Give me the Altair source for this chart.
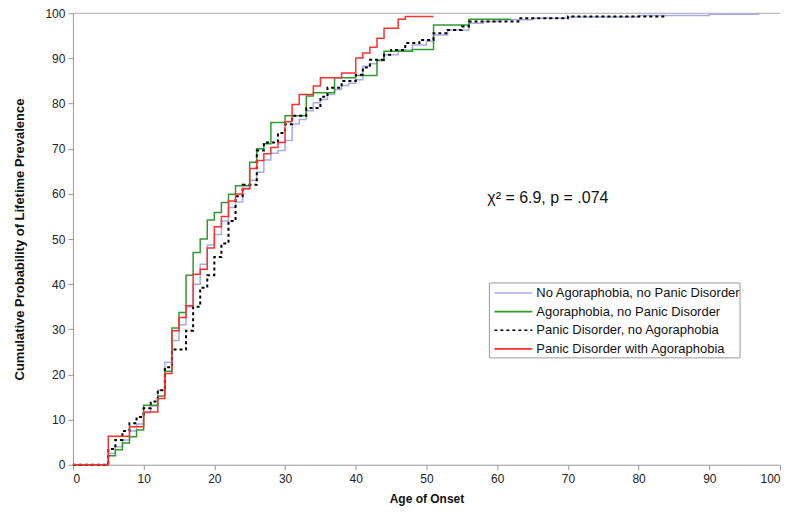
import altair as alt
import pandas as pd

series_names = [
    "No Agoraphobia, no Panic Disorder",
    "Agoraphobia, no Panic Disorder",
    "Panic Disorder, no Agoraphobia",
    "Panic Disorder with Agoraphobia",
]
series_colors = ["#a9aae6", "#2f9a2f", "#000000", "#ff2f2f"]
series_dashes = [[1, 0], [1, 0], [3, 3], [1, 0]]
series_widths = [1.5, 1.5, 2.0, 1.5]

blue_age = [0, 5, 6, 7, 8, 9, 10, 11, 12, 13, 14, 15, 16, 17, 18, 19, 20, 21, 22, 23, 24,
            25, 26, 27, 28, 29, 30, 31, 32, 33, 34, 35, 36, 37, 38, 39, 40, 41, 42, 43, 44,
            46, 48, 50, 51, 53, 56, 58, 60, 65, 70, 80, 90, 97]
blue_pct = [0, 2.5, 4, 5.5, 7.5, 9, 11.5, 13, 16.5, 22.7, 27.5, 31, 35, 40, 44.4, 48.7, 51, 54,
            57, 58.2, 61, 63, 64.8, 67.5, 69, 69.6, 71.8, 75.5, 76.5, 78.4, 80.2, 80.9, 82,
            83.1, 84, 84.5, 85.3, 88.3, 88.8, 89.5, 90.8, 91.9, 93, 93.8, 95.2, 96.3, 97.8,
            98.2, 98.6, 98.9, 99.2, 99.5, 99.8, 100]

green_age = [0, 5, 6, 7, 8, 9, 10, 12, 13, 14, 15, 16, 17, 18, 19, 20, 21, 22, 23, 25, 26, 27,
             28, 30, 33, 34, 37, 40, 43, 44, 48, 51, 56, 62]
green_pct = [0, 2, 3.3, 4.8, 6.2, 7.7, 13.2, 15.2, 20.7, 30.3, 33.7, 42, 47, 50, 54.2, 55.9,
             58.1, 59.9, 61.8, 67, 70, 71.1, 75.8, 77.3, 81.7, 82.4, 85.7, 86.2, 89.6, 91.6,
             92, 97.4, 98.7, 98.7]

dot_age = [0, 5, 6, 7, 8, 9, 10, 11, 12, 13, 14, 16, 17, 18, 19, 20, 21, 22, 23, 24, 26, 27,
           29, 30, 31, 33, 35, 36, 38, 40, 41, 42, 44, 45, 47, 49, 51, 53, 55, 56, 63, 70, 84]
dot_pct = [0, 3.5, 5.5, 7.5, 9.2, 10.6, 12.5, 14, 16.5, 21.6, 25.5, 29.7, 35, 39.2, 42, 46,
           49, 54, 59.5, 62, 69.6, 71.4, 73.5, 75.4, 77.3, 79, 81.5, 83.5, 85, 86.4, 88,
           89.7, 90.8, 91.9, 93.4, 94.1, 95.6, 96.3, 97.1, 98.2, 98.9, 99.3, 99.3]

red_age = [0, 5, 8, 10, 12, 13, 14, 15, 16, 17, 18, 19, 20, 21, 22, 23, 24, 25, 26, 27, 28,
           29, 30, 31, 32, 34, 35, 38, 40, 41, 42, 43, 44, 46, 47, 51]
red_pct = [0, 6.3, 8.4, 11.7, 14.7, 20.2, 29.7, 32.6, 35.2, 42.2, 43.3, 48, 52.7, 55, 58.4,
           60, 61.2, 65.6, 67.4, 68.9, 70.3, 71.4, 76, 79.8, 82, 83.9, 85.7, 86.8, 90.1,
           91.2, 92.5, 94.5, 96.7, 98.7, 99.3, 99.3]

x_ticks = list(range(0, 101, 10))
y_ticks = list(range(0, 101, 10))
stat_label = "χ² = 6.9, p = .074"

rows = []
for name, ages, pcts in zip(series_names,
                            [blue_age, green_age, dot_age, red_age],
                            [blue_pct, green_pct, dot_pct, red_pct]):
    for a, p in zip(ages, pcts):
        rows.append({"series": name, "age": a, "pct": p})
df = pd.DataFrame(rows)

FONT = "Liberation Sans"

x_scale = alt.Scale(domain=[0, 100], nice=False)
y_scale = alt.Scale(domain=[0, 100], nice=False)
x_enc = alt.X("age:Q", scale=x_scale,
              axis=alt.Axis(values=x_ticks, title="Age of Onset", titlePadding=9, labelPadding=4))
y_enc = alt.Y("pct:Q", scale=y_scale,
              axis=alt.Axis(values=y_ticks, title="Cumulative Probability of Lifetime Prevalence",
                            titlePadding=18, labelPadding=3, titleFontSize=13))
color_enc = alt.Color("series:N", scale=alt.Scale(domain=series_names, range=series_colors),
                      legend=None)
dash_enc = alt.StrokeDash("series:N", scale=alt.Scale(domain=series_names, range=series_dashes),
                          legend=None)

main_layers = []
main_layers.append(
    alt.Chart(pd.DataFrame({"pct": [100]})).mark_rule(color="#aaa", strokeWidth=1)
    .encode(y=alt.Y("pct:Q", scale=y_scale))
)
for name, w in zip(series_names, series_widths):
    main_layers.append(
        alt.Chart(df).transform_filter(alt.datum.series == name)
        .mark_line(interpolate="step-after", strokeWidth=w)
        .encode(x=x_enc, y=y_enc, color=color_enc, strokeDash=dash_enc)
    )
main_layers.append(
    alt.Chart(pd.DataFrame({"age": [58.6], "pct": [59], "t": [stat_label]}))
    .mark_text(align="left", baseline="middle", font=FONT, fontSize=16, color="#111")
    .encode(x=alt.X("age:Q", scale=x_scale), y=alt.Y("pct:Q", scale=y_scale), text="t:N")
)
main = alt.layer(*main_layers)

# custom legend box
legend_df = pd.DataFrame({"series": series_names})
ly = alt.Y("series:N", scale=alt.Scale(type="point", domain=series_names, range=[280, 336],
                                       padding=0), axis=None)
box = alt.Chart(pd.DataFrame({"k": [0]})).mark_rect(
    fill="white", stroke="#999", strokeWidth=1).encode(
    x=alt.value(417), x2=alt.value(668), y=alt.value(270), y2=alt.value(345))
sym = alt.Chart(legend_df).mark_rule(strokeWidth=1.6).encode(
    x=alt.value(422), x2=alt.value(460), y=ly, color=color_enc, strokeDash=dash_enc)
lab = alt.Chart(legend_df).mark_text(
    align="left", baseline="middle", font=FONT, fontSize=13, color="#111").encode(
    x=alt.value(464), y=ly, text="series:N")
legend = alt.layer(box, sym, lab)

chart = alt.layer(main, legend).resolve_scale(y="independent").properties(
    width=708, height=452,
    padding={"left": 65, "top": 5, "right": 12, "bottom": 42},
    autosize=alt.AutoSizeParams(type="none"),
).configure_view(stroke=None).configure_axis(
    labelFont=FONT, labelFontSize=12, labelColor="#222",
    titleFont=FONT, titleFontSize=12, titleFontWeight="bold", titleColor="#111",
    domainColor="#999", tickColor="#999", tickSize=5, grid=False,
)

chart.save("out.html", embed_options={"renderer": "svg", "actions": False})
